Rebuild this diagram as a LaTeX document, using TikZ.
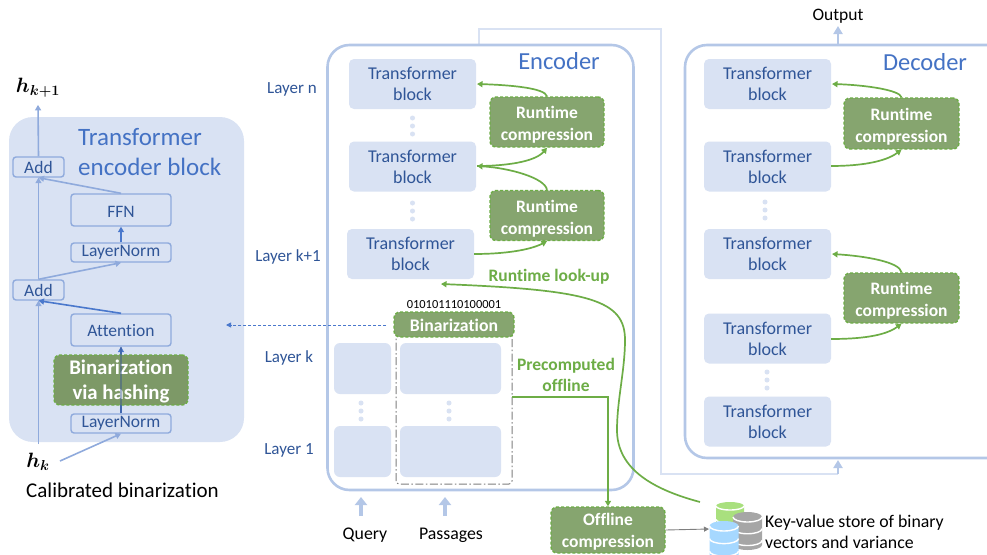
\documentclass[tikz,border=0pt]{standalone}
\usepackage{fontspec}
\usepackage{amsmath}
\setmainfont[Ligatures=NoCommon]{Carlito}
\usetikzlibrary{arrows.meta,calc}
\definecolor{blockfill}{HTML}{D9E2F3}
\definecolor{frameblue}{HTML}{B4C7E7}
\definecolor{innerblue}{HTML}{8FAADC}
\definecolor{textblue}{HTML}{2F5597}
\definecolor{titleblue}{HTML}{4472C4}
\definecolor{midblue}{HTML}{4A78CC}
\definecolor{gfill}{HTML}{86A56F}
\definecolor{gline}{HTML}{6DAD46}
\definecolor{ggray}{HTML}{7F7F7F}
\definecolor{dbgreen}{HTML}{A9E07E}
\definecolor{dbgray}{HTML}{A6A6A6}
\definecolor{dbblue}{HTML}{A6D8FF}
\tikzset{
 x=1pt,y=-1pt,
 frame/.style={draw=frameblue,line width=2.6pt,rounded corners=22pt,fill=white},
 tblock/.style={fill=blockfill,rounded corners=5pt,minimum width=127pt,minimum height=50pt,
   text=textblue,align=center,font=\fontsize{18}{21}\selectfont,inner sep=0pt},
 emptyblock/.style={fill=blockfill,rounded corners=6pt,inner sep=0pt,minimum height=51pt},
 gbox/.style={fill=gfill,draw=gline,line width=1.4pt,dash pattern=on 3pt off 2pt,rounded corners=6pt,
   text=white,align=center,font=\fontsize{17.5}{22}\selectfont\bfseries,inner sep=0pt},
 small/.style={draw=innerblue,line width=1.4pt,rounded corners=3pt,text=textblue,inner sep=0pt,
   font=\fontsize{17.5}{18}\selectfont,fill=blockfill},
 lbl/.style={text=textblue,font=\fontsize{17}{16}\selectfont,inner sep=0pt},
 blk/.style={text=black,align=left,font=\fontsize{17.8}{21}\selectfont,inner sep=0pt},
 ttl/.style={text=titleblue,font=\fontsize{24.5}{30}\selectfont,align=center,inner sep=0pt},
 garrow/.style={draw=gline,line width=1.7pt,-{Triangle[length=5.5pt,width=6pt]}},
 bl/.style={draw=innerblue,line width=1.6pt,-{Triangle[length=5.5pt,width=6pt]}},
 dbl/.style={draw=midblue,line width=1.6pt,-{Triangle[length=5.5pt,width=6pt]}},
 thick arrow/.style={draw=frameblue,line width=2.6pt,-{Triangle[length=8pt,width=9pt]}},
 dotmark/.style={circle,fill=blockfill,minimum size=5pt,inner sep=0pt},
 glabel/.style={text=gline,font=\fontsize{17.5}{21}\selectfont\bfseries,align=center,inner sep=0pt},
}
\newcommand{\vdotsat}[2]{\node[dotmark] at (#1,#2-8) {};\node[dotmark] at (#1,#2) {};\node[dotmark] at (#1,#2+8) {};}
\newcommand{\gs}{\rule{0pt}{18pt}}
% database stack: center x, top y, half width, ellipse ry, height, colour
\newcommand{\dbicon}[6]{%
 \fill[#6] (#1-#3,#2) arc[start angle=180,end angle=0,x radius=#3,y radius=-#4] -- (#1+#3,#2+#5)
   arc[start angle=0,end angle=-180,x radius=#3,y radius=-#4] -- cycle;
 \draw[white,line width=1.4pt] (#1-#3,#2) arc[start angle=180,end angle=360,x radius=#3,y radius=-#4];
 \draw[white,line width=1.4pt] (#1-#3,#2+#5*0.42) arc[start angle=180,end angle=360,x radius=#3,y radius=-#4];
 \draw[white,line width=1.4pt] (#1-#3,#2+#5*0.84) arc[start angle=180,end angle=360,x radius=#3,y radius=-#4];
}
\begin{document}
\begin{tikzpicture}
\useasboundingbox (0,0) rectangle (987,554);
% ---- left panel
\node[fill=blockfill,rounded corners=24pt,minimum width=235pt,minimum height=325pt,inner sep=0pt] (panel) at (126.5,279.5) {};
\node[ttl,align=left,font=\fontsize{25}{30}\selectfont,anchor=west] (ptitle) at (78,152) {Transformer\\encoder block};
\node[small,minimum width=51pt,minimum height=20pt] (add2) at (38.5,167) {Add};
\node[small,minimum width=51pt,minimum height=20pt] (add1) at (38.5,290) {Add};
\node[small,minimum width=100pt,minimum height=32pt] (ffn) at (121,210) {\rule{0pt}{14pt}FFN};
\node[small,minimum width=100pt,minimum height=19pt] (ln2) at (121,252.5) {LayerNorm};
\node[small,minimum width=100pt,minimum height=32pt] (att) at (121,330) {\rule{0pt}{14pt}Attention};
\node[small,minimum width=100pt,minimum height=19pt] (ln1) at (121,423.5) {LayerNorm};
\node[inner sep=0pt] (hkone) at (38,88) {\fontsize{20}{22}\selectfont$\boldsymbol{h_{k+1}}$};
\node[inner sep=0pt] (hk) at (38,462) {\fontsize{20}{22}\selectfont$\boldsymbol{h_{k}}$};
\node[blk,anchor=west,font=\fontsize{21}{24}\selectfont] (calib) at (26,490) {Calibrated binarization};
\coordinate (hkup) at (38.5,444);
\coordinate (hkright) at (60,461);
\draw[bl] (hkup) -- (add1.south);
\draw[bl] (add1.north) -- (add2.south);
\draw[bl] (add2.north) -- ($(hkone.south)+(0,7)$);
\draw[bl] (hkright) -- (ln1.south);
\draw[dbl] (ln1.north) -- (att.south);
\draw[dbl] (att.north) -- (add1.south);
\draw[bl] (add1.north) -- (ln2.south);
\draw[dbl] (ln2.north) -- (ffn.south);
\draw[bl] (ffn.north) -- (add2.south);
\node[gbox,fill=gfill!93!black,minimum width=134pt,minimum height=50pt,font=\fontsize{20.8}{25}\selectfont\bfseries] (hash) at (121,380) {\rule{0pt}{18pt}Binarization\\via hashing};
\draw[draw=midblue!70!black,line width=1.3pt,opacity=.45] (ln1.north) -- (att.south);
% ---- frames
\coordinate (toptl) at (479,29);
\coordinate (toptr) at (661,29);
\coordinate (botl) at (661,474);
\coordinate (botr) at (838,474);
\draw[draw=blockfill,line width=2.6pt] (479,45) -- (toptl) -- (toptr) -- (botl) -- (botr);
\node[frame,minimum width=306pt,minimum height=445pt,inner sep=0pt] (enc) at (480.5,267.5) {};
\node[frame,minimum width=326pt,minimum height=413pt,inner sep=0pt] (dec) at (848,251.5) {};
\draw[thick arrow,line width=2pt] (botr) -- (838,460);
\draw[thick arrow] (838,45) -- (838,26);
\node[blk,font=\fontsize{17.5}{20}\selectfont] (out) at (838,16) {Output};
\node[ttl] (enct) at (559,61) {Encoder};
\node[ttl] (dect) at (925,62) {Decoder};
% ---- encoder blocks
\node[tblock] (e1) at (412.5,84) {Transformer\\block};
\node[tblock] (e2) at (412.5,166.5) {Transformer\\block};
\node[tblock] (e3) at (410.5,254) {Transformer\\block};
\vdotsat{412.5}{126}
\vdotsat{412.5}{211}
\node[gbox,minimum width=114pt,minimum height=50pt] (rc1) at (547,122) {\gs Runtime\\compression};
\node[gbox,minimum width=114pt,minimum height=50pt] (rc2) at (547,215.5) {\gs Runtime\\compression};
\draw[garrow] (rc1.north) .. controls (545,88) and (510,85) .. (477,84);
\draw[garrow] (477,166) .. controls (505,166) and (535,162) .. (rc1.south);
\draw[garrow] (rc2.north) .. controls (545,178) and (510,168) .. (477,166);
\draw[garrow] (474,254) .. controls (505,254) and (530,250) .. (rc2.south);
\node[lbl] (ln) at (292,89) {Layer n};
\node[lbl] (lk1) at (288,257) {Layer k+1};
\node[lbl] (lk) at (289,358) {Layer k};
\node[lbl] (l1) at (289,450) {Layer 1};
% ---- lower encoder
\node[emptyblock,minimum width=57pt] (q2) at (362.5,368.5) {};
\node[emptyblock,minimum width=57pt] (q1) at (362.5,451.5) {};
\node[emptyblock,minimum width=101pt] (p2) at (450.5,368.5) {};
\node[emptyblock,minimum width=101pt] (p1) at (450.5,451.5) {};
\vdotsat{361}{411}
\vdotsat{449}{411}
\draw[draw=ggray,line width=1pt,dash pattern=on 8pt off 2.5pt on 1.5pt off 2.5pt,rounded corners=3pt] (396,325) rectangle (512,484);
\coordinate (dashside) at (512,397);
\node[gbox,minimum width=120pt,minimum height=25pt,font=\fontsize{17.7}{18}\selectfont\bfseries] (bin) at (454,324.5) {\rule{0pt}{14pt}Binarization};
\node[font=\fontsize{12.4}{13}\selectfont,inner sep=0pt] (bits) at (454,305) {010101110100001};
\coordinate (binL) at (386,325);
\draw[draw=midblue,line width=.9pt,dash pattern=on 3pt off 2pt,-{Triangle[length=5pt,width=5pt]}] (binL) -- (226,325);
\node[glabel] (pre) at (566,375) {Precomputed\\offline};
\node[glabel] (look) at (549,277) {Runtime look-up};
% ---- inputs
\node[blk] (qtext) at (365,535) {Query};
\node[blk] (ptext) at (451,535) {Passages};
\coordinate (qstem) at (361,516);
\coordinate (pstem) at (445,516);
\draw[draw=frameblue,line width=4.5pt,-{Triangle[length=8pt,width=12pt]}] (qstem) -- (361,497);
\draw[draw=frameblue,line width=4.5pt,-{Triangle[length=8pt,width=12pt]}] (pstem) -- (445,497);
% ---- decoder blocks
\node[tblock] (d1) at (767.5,84) {Transformer\\block};
\node[tblock] (d2) at (767.5,166.5) {Transformer\\block};
\node[tblock] (d3) at (767.5,254) {Transformer\\block};
\node[tblock] (d4) at (767.5,338.5) {Transformer\\block};
\node[tblock] (d5) at (767.5,421.5) {Transformer\\block};
\vdotsat{765}{210}
\vdotsat{767}{380}
\node[gbox,minimum width=115pt,minimum height=51pt] (rc3) at (901.5,123.5) {\gs Runtime\\compression};
\node[gbox,minimum width=115pt,minimum height=50pt] (rc4) at (901.5,298) {\gs Runtime\\compression};
\draw[garrow] (rc3.north) .. controls (900,90) and (865,85) .. (832,84);
\draw[garrow] (831,166) .. controls (860,166) and (885,162) .. (rc3.south);
\draw[garrow] (rc4.north) .. controls (900,262) and (865,256) .. (832,254);
\draw[garrow] (831,339) .. controls (860,339) and (885,336) .. (rc4.south);
% ---- offline
\node[gbox,minimum width=114pt,minimum height=46pt] (off) at (608,530) {\rule{0pt}{16pt}Offline\\compression};
\draw[garrow,line width=1.4pt] (dashside) -- (608,397) -- (off.north);
\coordinate (lookstart) at (700,502);
\draw[garrow] (lookstart) .. controls (655,490) and (617,470) .. (617,430)
  .. controls (617,400) and (625,370) .. (625,340)
  .. controls (625,300) and (590,290) .. (441,284);
% ---- database icon
\dbicon{730}{506}{14}{4}{32}{dbgreen}
\dbicon{747.5}{517}{14.5}{5}{28}{dbgray}
\dbicon{724}{526}{14.5}{5}{30}{dbblue}
\coordinate (dbin) at (709,529);
\draw[draw=ggray,line width=.9pt,-{Triangle[length=5pt,width=5pt]}] (off.east) -- (dbin);
\node[blk,anchor=west] (kv) at (765,532) {Key-value store of binary\\vectors and variance};
\end{tikzpicture}
\end{document}
